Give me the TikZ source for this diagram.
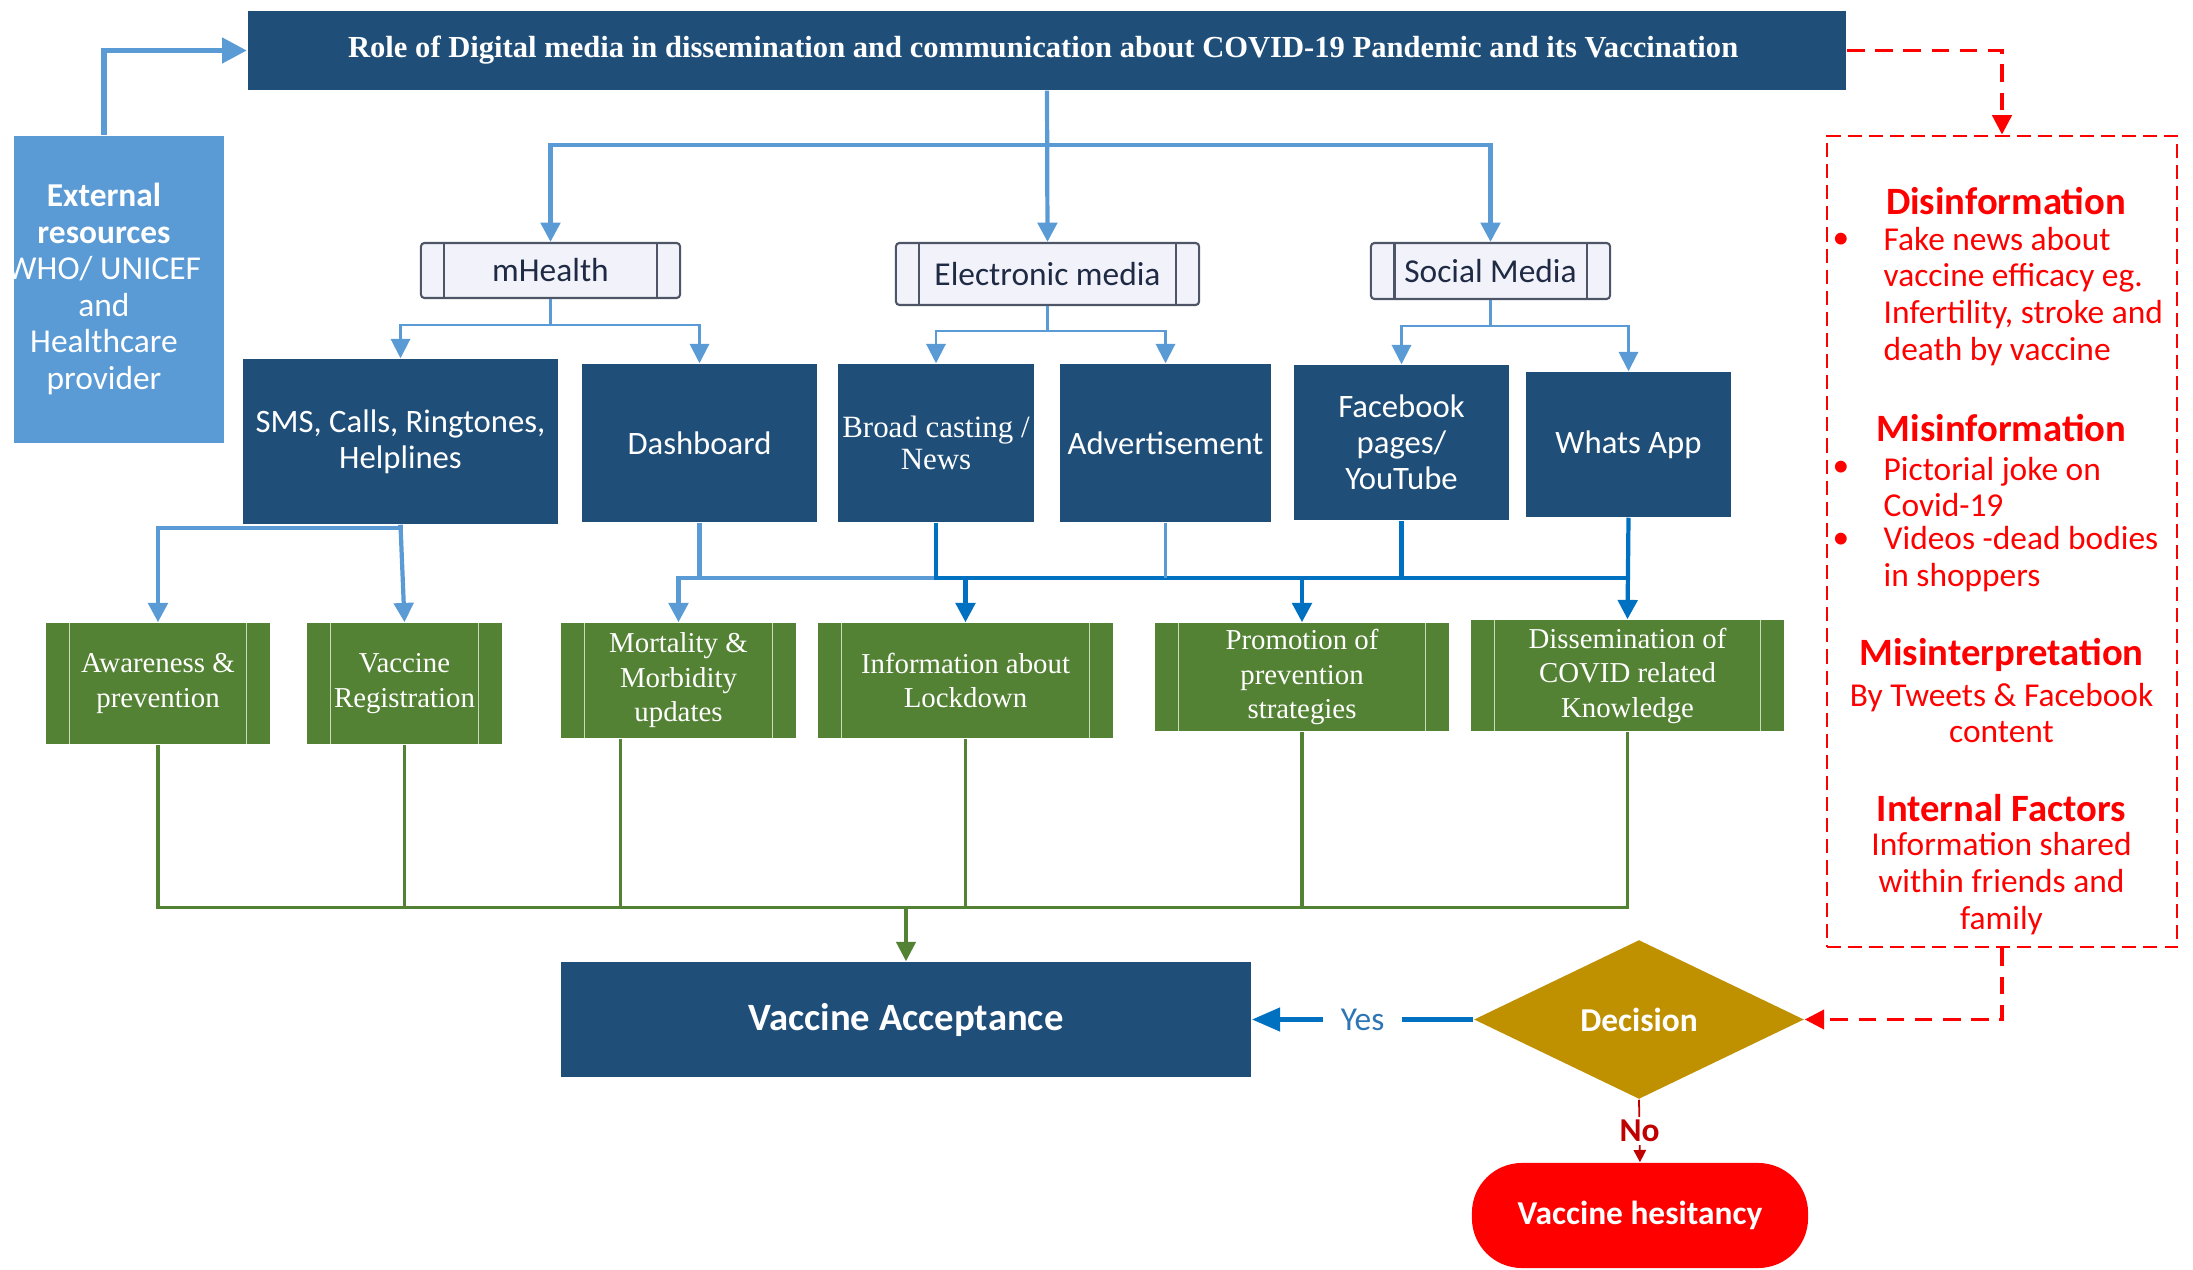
\documentclass[tikz,border=0pt]{standalone}
\usepackage{fontspec}
\setmainfont{Carlito}
\newfontfamily\boxserif{Liberation Serif}
\usepackage{tikz}
\usetikzlibrary{
  arrows.meta,
  positioning,
  shapes.geometric,
  calc
}
\definecolor{FigNavy}{HTML}{1F4E79}
\definecolor{FigSky}{HTML}{5B9BD5}
\definecolor{FigBlue}{HTML}{0070C0}
\definecolor{FigYes}{HTML}{2E75B6}
\definecolor{FigGreen}{HTML}{548235}
\definecolor{FigPale}{HTML}{C9DBB9}
\definecolor{FigGold}{HTML}{BF9000}
\definecolor{FigRed}{HTML}{FF0000}
\definecolor{FigDarkRed}{HTML}{C00000}
\definecolor{FigFrame}{HTML}{4D5566}
\definecolor{FigLavender}{HTML}{F2F3FA}
\definecolor{FigInk}{HTML}{1F2A44}

\begin{document}
\begin{tikzpicture}[
x=0.01cm, y=-0.01cm,
>={Triangle[length=5.5pt, width=5.5pt]},
sidebars/.style={
path picture={
\draw[#1] ([xshift=0.235cm]path picture bounding box.south west) -- ([xshift=0.235cm]path picture bounding box.north west);
\draw[#1] ([xshift=-0.235cm]path picture bounding box.south east) -- ([xshift=-0.235cm]path picture bounding box.north east);
}
},
navybox/.style={
fill=FigNavy,
text=white,
inner sep=1pt,
align=center,
font=\fontsize{9.3}{10.3}\selectfont
},
catbox/.style={
draw=FigFrame,
line width=0.6pt,
rounded corners=1pt,
fill=FigLavender,
text=FigInk,
inner sep=1pt,
align=center,
font=\fontsize{9.5}{10.5}\selectfont,
sidebars={FigFrame, line width=0.6pt}
},
greenbox/.style={
fill=FigGreen,
text=white,
inner sep=1pt,
align=center,
font=\boxserif\fontsize{8.2}{9.8}\selectfont,
sidebars={FigPale, line width=0.5pt}
},
redhead/.style={text=FigRed, inner sep=0pt, font=\bfseries\fontsize{11}{12}\selectfont},
redtext/.style={text=FigRed, inner sep=0pt, align=left, font=\fontsize{9.5}{10.5}\selectfont},
skyline/.style={draw=FigSky, line width=1.2pt},
skyarrow/.style={skyline, ->},
thinline/.style={draw=FigSky, line width=0.6pt},
thinarrow/.style={thinline, ->},
blueline/.style={draw=FigBlue, line width=1.2pt},
bluearrow/.style={blueline, ->},
greenline/.style={draw=FigGreen, line width=0.9pt},
greenarrow/.style={greenline, ->},
redline/.style={draw=FigRed, line width=0.9pt, dash pattern=on 5pt off 3pt},
redarrow/.style={redline, ->}
]
\useasboundingbox (0,0) rectangle (2193,1270);

% Top title box
\node[navybox, minimum width=15.98cm, minimum height=0.79cm,
      font=\boxserif\bfseries\fontsize{8.7}{10}\selectfont] (title) at (1047,50.5) {
Role of Digital media in dissemination and communication about COVID-19 Pandemic and its Vaccination
};

% External resources (text sits left of the box centre)
\node[fill=FigSky, minimum width=2.1cm, minimum height=3.07cm] (ext) at (119,289.5) {};
\node[text=white, align=center, inner sep=0pt, font=\fontsize{9.5}{10.4}\selectfont] (ext_text) at (104,289) {
\textbf{External}\\
\textbf{resources}\\
WHO/ UNICEF\\
and\\
Healthcare\\
provider
};

% Channel boxes
\node[catbox, minimum width=2.59cm, minimum height=0.55cm] (mhealth) at (550.5,270.5) {mHealth};
\node[catbox, minimum width=3.03cm, minimum height=0.62cm] (emedia) at (1047.5,274) {Electronic media};
\node[catbox, minimum width=2.39cm, minimum height=0.56cm] (social) at (1490.5,271) {Social Media};

% Media boxes
\node[navybox, minimum width=3.15cm, minimum height=1.65cm] (sms) at (400.5,441.5) {SMS, Calls, Ringtones,\\Helplines};
\node[navybox, minimum width=2.35cm, minimum height=1.58cm] (dash) at (699.5,443) {Dashboard};
\node[navybox, minimum width=1.96cm, minimum height=1.58cm,
      font=\boxserif\fontsize{8.8}{9.3}\selectfont] (broad) at (936,443) {Broad casting /\\News};
\node[navybox, minimum width=2.11cm, minimum height=1.58cm] (advert) at (1165.5,443) {Advertisement};
\node[navybox, minimum width=2.15cm, minimum height=1.55cm] (fb) at (1401.5,442.5) {Facebook\\pages/\\YouTube};
\node[navybox, minimum width=2.05cm, minimum height=1.45cm] (whats) at (1628.5,444.5) {Whats App};

% Outcome boxes
\node[greenbox, minimum width=2.24cm, minimum height=1.21cm] (aware) at (158,683.5) {Awareness \&\\prevention};
\node[greenbox, minimum width=1.95cm, minimum height=1.21cm] (vreg) at (404.5,683.5) {Vaccine\\Registration};
\node[greenbox, minimum width=2.35cm, minimum height=1.15cm] (mort) at (678.5,680.5) {Mortality \&\\Morbidity\\updates};
\node[greenbox, minimum width=2.95cm, minimum height=1.15cm] (info) at (965.5,680.5) {Information about\\Lockdown};
\node[greenbox, minimum width=2.94cm, minimum height=1.08cm] (promo) at (1302,677) {Promotion of\\prevention\\strategies};
\node[greenbox, minimum width=3.13cm, minimum height=1.11cm] (dissem) at (1627.5,675.5) {Dissemination of\\COVID related\\Knowledge};

% Acceptance, decision, hesitancy
\node[navybox, minimum width=6.9cm, minimum height=1.15cm,
      font=\bfseries\fontsize{11}{12}\selectfont] (accept) at (906,1019.5) {Vaccine Acceptance};
\node[diamond, aspect=2, fill=FigGold, text=white, inner sep=0pt,
      minimum width=3.3cm, minimum height=1.59cm,
      font=\bfseries\fontsize{9.5}{10.5}\selectfont] (decision) at (1639,1019.5) {Decision};
\node[fill=FigRed, text=white, rounded corners=0.5cm,
      minimum width=3.36cm, minimum height=1.05cm,
      font=\bfseries\fontsize{9.5}{10.5}\selectfont] (hesit) at (1640,1215.5) {Vaccine hesitancy};

% Misinformation panel
\node[draw=FigRed, line width=0.7pt, dash pattern=on 4pt off 2pt,
      minimum width=3.5cm, minimum height=8.11cm] (panel) at (2002,541.5) {};
\node[redhead] (disinfo) at (2006,201) {Disinformation};
\node[redtext] (dot_a) at (1841,241) {\textbullet};
\node[redtext, anchor=west] (fake) at (1883,296.5) {Fake news about\\vaccine efficacy eg.\\Infertility, stroke and\\death by vaccine};
\node[redhead] (misinfo) at (2001.5,428) {Misinformation};
\node[redtext] (dot_b) at (1841,469) {\textbullet};
\node[redtext, anchor=west] (joke) at (1883,487) {Pictorial joke on\\Covid-19};
\node[redtext] (dot_c) at (1841,541) {\textbullet};
\node[redtext, anchor=west] (videos) at (1883,559.5) {Videos -dead bodies\\in shoppers};
\node[redhead] (misinterp) at (2001.5,655) {Misinterpretation};
\node[redtext, align=center] (tweets) at (2001.5,713) {By Tweets \& Facebook\\content};
\node[redhead] (internal) at (2001.5,808) {Internal Factors};
\node[redtext, align=center] (shared) at (2001.5,884) {Information shared\\within friends and\\family};

% Arrows
\draw[draw=FigSky, line width=1.5pt, -{Triangle[length=7pt, width=7pt]}] (ext_text.north |- ext.north) |- (title.west);
\coordinate (fork) at ($(title.south)+(0,54)$);
\draw[skyarrow] (title.south) -- (emedia.north);
\draw[skyarrow] (fork) -| (mhealth.north);
\draw[skyarrow] (fork) -| (social.north);

\draw[thinarrow] (mhealth.south) -- ++(0,26) -| (sms.north);
\draw[thinarrow] (mhealth.south) -- ++(0,26) -| (dash.north);
\draw[thinarrow] (emedia.south) -- ++(0,25) -| (broad.north);
\draw[thinarrow] (emedia.south) -- ++(0,25) -| (advert.north);
\draw[thinarrow] (social.south) -- ++(0,26) -| (fb.north);
\draw[thinarrow] (social.south) -- ++(0,26) -| (whats.north);

\draw[skyarrow] (sms.south) -- ++(0,3) -| (aware.north);
\draw[skyarrow] (sms.south) -- (vreg.north);
\coordinate (hub) at ($(dash.south)+(0,55)$);
\draw[skyline] (dash.south) |- (broad.south |- hub);
\draw[skyarrow] (dash.south |- hub) -| (mort.north);
\draw[bluearrow] (broad.south) -- (broad.south |- hub) -| (promo.north);
\draw[bluearrow] (info.north |- hub) -- (info.north);
\draw[thinline] (advert.south) -- (advert.south |- hub);
\draw[blueline] (fb.south) -- (fb.south |- hub);
\draw[blueline] (promo.north |- hub) -- (whats.south |- hub);
\draw[bluearrow] (whats.south) -- (dissem.north);

\coordinate (gjoin) at ($(aware.south)+(0,163)$);
\coordinate (mort_drop) at ($(mort.south west)+(60,0)$);
\draw[greenline] (aware.south) -- (aware.south |- gjoin) -- (dissem.south |- gjoin) -- (dissem.south);
\draw[greenline] (vreg.south) -- (vreg.south |- gjoin);
\draw[greenline] (mort_drop) -- (mort_drop |- gjoin);
\draw[greenline] (info.south) -- (info.south |- gjoin);
\draw[greenline] (promo.south) -- (promo.south |- gjoin);
\draw[greenarrow] (accept.north |- gjoin) -- (accept.north);

\draw[draw=FigBlue, line width=1.4pt, -{Triangle[length=8pt, width=6.5pt]}] (decision.west) --
  node[fill=white, text=FigYes, inner xsep=5pt, font=\fontsize{9.5}{10.5}\selectfont] (yes) {Yes} (accept.east);
\draw[draw=FigDarkRed, line width=0.5pt, -{Triangle[length=3.5pt, width=3.5pt]}] (decision.south) --
  node[fill=white, text=FigDarkRed, inner sep=1pt, font=\bfseries\fontsize{9.5}{10.5}\selectfont] (no) {No} (hesit.north);

\draw[redarrow] (title.east) -| (panel.north);
\draw[redarrow] (panel.south) |- (decision.east);

\end{tikzpicture}
\end{document}
